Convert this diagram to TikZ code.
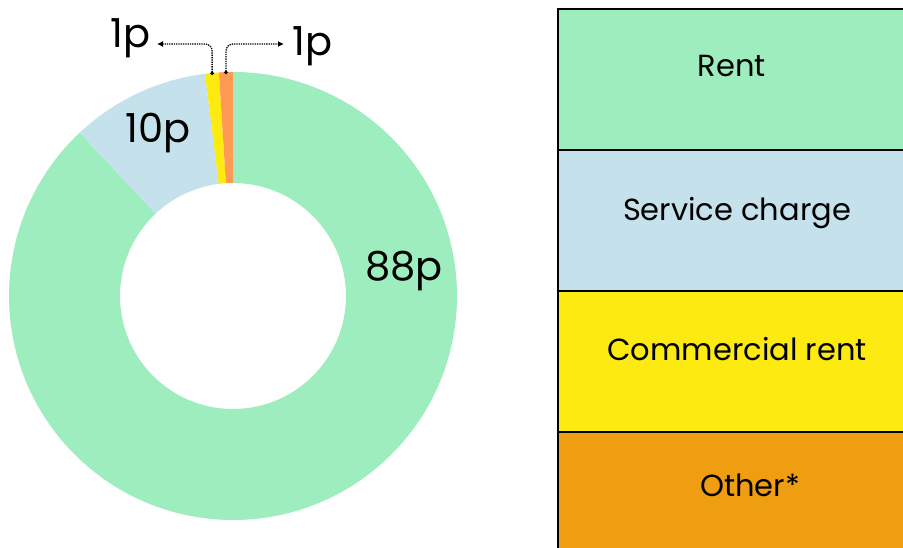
\documentclass[tikz,border=0pt]{standalone}
\usepackage{fontspec}
\setmainfont{Poppins}
\usetikzlibrary{arrows.meta,calc}
\definecolor{rentgreen}{HTML}{9DEDBE}
\definecolor{serviceblue}{HTML}{C5E2EC}
\definecolor{commyellow}{HTML}{FCEA10}
\definecolor{otherslice}{HTML}{FF9A55}
\definecolor{otherkey}{HTML}{EF9D11}

\begin{document}
\begin{tikzpicture}[
  x=1pt,
  y=1pt,
  pct/.style={font=\fontsize{40}{40}\selectfont,anchor=base west,inner sep=0pt},
  keybox/.style={draw=black,line width=2pt,outer sep=0pt,inner sep=0pt,
    minimum width=358pt,minimum height=141pt,anchor=north west},
  keytext/.style={font=\fontsize{30.5}{30.5}\selectfont,anchor=base,inner sep=0pt},
  callout/.style={densely dotted,line width=1.3pt,rounded corners=7pt,
    {Circle[length=3.5pt]}-{Latex[length=6pt,width=6pt]}}
]
  \useasboundingbox (0,0) rectangle (903,548);
  \clip (0,0) rectangle (903,548);

  % Donut of where each pound goes, clockwise from the top.
  \coordinate (ctr) at (233,252);
  \foreach \from/\to/\col in {133.2/450/rentgreen,97.2/133.2/serviceblue,
      93.6/97.2/commyellow,90/93.6/otherslice} {
    \fill[\col] ($(ctr)+(\from:224)$) arc[start angle=\from,end angle=\to,radius=224pt]
      -- ($(ctr)+(\to:113)$) arc[start angle=\to,end angle=\from,radius=113pt] -- cycle;
  }

  % Slice values.
  \node[pct] (rentval) at (365,267) {88p};
  \node[pct] (serviceval) at (125,405) {10p};
  \node[pct] (commval) at (110,500) {1p};
  \node[pct] (otherval) at (292,492) {1p};

  % Dotted call-outs for the two thin slices.
  \coordinate (commtip) at ($(ctr)+(95.4:222)$);
  \coordinate (othertip) at ($(ctr)+(91.8:222)$);
  \coordinate (commend) at (157,504);
  \coordinate (otherend) at (284,504);
  \draw[callout] (commtip) |- (commend);
  \draw[callout] (othertip) |- (otherend);

  % Key on the right, cut by the page edge.
  \node[keybox,fill=rentgreen] (rentkey) at (558,539) {};
  \node[keybox,fill=serviceblue] (servicekey) at (rentkey.south west) {};
  \node[keybox,fill=commyellow] (commkey) at (servicekey.south west) {};
  \node[keybox,fill=otherkey] (otherkey) at (commkey.south west) {};

  \node[keytext] (rentlabel) at (732,471) {Rent};
  \node[keytext] (servicelabel) at (737,327) {Service charge};
  \node[keytext] (commlabel) at (737,187) {Commercial rent};
  \node[keytext] (otherlabel) at (750,51) {Other*};
\end{tikzpicture}
\end{document}
